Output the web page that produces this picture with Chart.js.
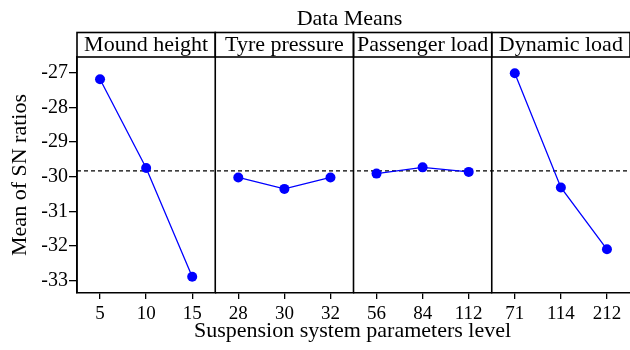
<!DOCTYPE html>
<html>
<head>
<meta charset="utf-8">
<script src="https://cdn.jsdelivr.net/npm/chart.js@4/dist/chart.umd.min.js"></script>
<style>
  html, body { margin: 0; padding: 0; background: #fff; }
  #wrap { width: 630px; height: 350px; }
</style>
</head>
<body>
<div id="wrap"><canvas id="means"></canvas></div>
<script>
// factors and their levels
var factors = ["Mound height", "Tyre pressure", "Passenger load", "Dynamic load"];
var moundLevels = ["5", "10", "15"];
var tyreLevels = ["28", "30", "32"];
var passengerLevels = ["56", "84", "112"];
var dynamicLevels = ["71", "114", "212"];

// mean of SN ratios per level
var moundMeans = [-27.19, -29.75, -32.88];
var tyreMeans = [-30.02, -30.35, -30.02];
var passengerMeans = [-29.91, -29.73, -29.86];
var dynamicMeans = [-27.02, -30.31, -32.09];
var grandMean = -29.83;

var yTicks = [-33, -32, -31, -30, -29, -28, -27];

Chart.defaults.font.family = "'Liberation Serif', 'Times New Roman', serif";
Chart.defaults.color = "#000";

var levels = [moundLevels, tyreLevels, passengerLevels, dynamicLevels];
var means = [moundMeans, tyreMeans, passengerMeans, dynamicMeans];

var scales = {
  y: {
    type: 'linear',
    min: -33.35,
    max: -26.55,
    afterBuildTicks: function(s) { s.ticks = yTicks.map(function(v) { return {value: v}; }); },
    afterFit: function(s) { s.width = 77; },
    ticks: { font: {size: 20}, padding: 1, color: '#000' },
    grid: { drawOnChartArea: false, tickLength: 8, color: '#000', lineWidth: 1.3 },
    border: { color: '#000', width: 1.5 },
    title: { display: true, text: 'Mean of SN ratios', font: {size: 22}, padding: {top: 7, bottom: 0} }
  }
};

var datasets = [];
for (var i = 0; i < 4; i++) {
  scales['x' + i] = {
    type: 'category',
    position: 'bottom',
    stack: 'panels',
    stackWeight: 1,
    labels: levels[i],
    offset: true,
    afterFit: function(s) { s.height = 57; s.paddingLeft = 0; s.paddingRight = 0; },
    ticks: { font: {size: 19}, padding: 4, color: '#000', maxRotation: 0, autoSkip: false },
    grid: { offset: false, drawOnChartArea: false, tickLength: 6, color: '#000', lineWidth: 1.3 },
    border: { color: '#000', width: 1.5 }
  };
  datasets.push({
    label: factors[i],
    xAxisID: 'x' + i,
    yAxisID: 'y',
    data: means[i],
    borderColor: '#0000ff',
    backgroundColor: '#0000ff',
    borderWidth: 1.3,
    pointRadius: 5,
    pointBorderWidth: 0,
    pointBackgroundColor: '#0000ff',
    tension: 0
  });
}

// panel frames, header strip, reference line and titles
var panelPlugin = {
  id: 'panels',
  beforeDatasetsDraw: function(chart) {
    var c = chart.ctx, a = chart.chartArea;
    var y = chart.scales.y.getPixelForValue(grandMean);
    c.save();
    c.strokeStyle = '#000';
    c.lineWidth = 1.3;
    c.setLineDash([4, 3]);
    c.beginPath();
    c.moveTo(a.left, y);
    c.lineTo(a.right, y);
    c.stroke();
    c.restore();
  },
  afterDraw: function(chart) {
    var c = chart.ctx, a = chart.chartArea;
    var stripTop = 32.5;
    c.save();
    c.strokeStyle = '#000';
    c.lineWidth = 1.6;
    c.fillStyle = '#000';
    c.textAlign = 'center';
    c.textBaseline = 'alphabetic';
    c.font = "22px 'Liberation Serif'";
    for (var i = 0; i < 4; i++) {
      var s = chart.scales['x' + i];
      c.strokeRect(s.left, stripTop, s.right - s.left, a.top - stripTop);
      c.beginPath();
      c.moveTo(s.left, a.top);
      c.lineTo(s.left, a.bottom);
      c.stroke();
      c.fillText(factors[i], (s.left + s.right) / 2, 50.5);
    }
    c.fillText('Data Means', (a.left + a.right) / 2 - 4, 25);
    c.fillText('Suspension system parameters level', (a.left + a.right) / 2 - 1, 337);
    c.restore();
  }
};

new Chart(document.getElementById('means'), {
  type: 'line',
  data: { datasets: datasets },
  options: {
    responsive: true,
    maintainAspectRatio: false,
    animation: false,
    layout: { autoPadding: false, padding: { top: 57, right: -2, bottom: 0, left: 0 } },
    plugins: { legend: { display: false }, tooltip: { enabled: false } },
    scales: scales
  },
  plugins: [panelPlugin]
});
</script>
</body>
</html>
